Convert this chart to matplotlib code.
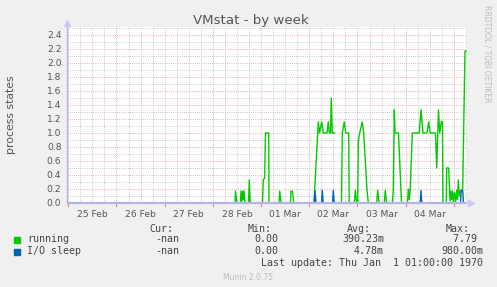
import numpy as np
import matplotlib
matplotlib.use("Agg")
import matplotlib.pyplot as plt
from matplotlib.lines import Line2D

# ---- data (time in hours since 25 Feb 00:00) ----
run_hours = [69.06, 83.0, 83.25, 84.0, 85.74, 85.99, 86.49, 86.84, 87.14, 87.49, 87.98,
             89.73, 90.12, 90.62, 96.70, 97.10, 97.79, 98.19, 99.79, 99.94,
             104.91, 105.26, 105.91, 110.64, 110.89, 111.64, 112.23,
             122.34, 124.48, 125.08, 126.17, 126.97, 128.81, 129.46, 129.96, 130.56,
             130.96, 131.45, 132.55, 132.6,
             136.03, 136.43, 137.43, 138.12, 139.62, 139.87,
             142.41, 142.91, 143.60, 144.10, 144.40, 145.10, 146.39, 147.09, 148.73, 149.38,
             153.56, 154.06, 154.71, 157.35, 157.85, 158.54,
             161.43, 161.83, 162.33, 162.67, 164.42, 165.91,
             168.90, 169.30, 169.79, 170.29, 171.29, 174.77, 175.62, 176.61, 178.60,
             179.45, 180.10, 182.84, 183.44, 184.33, 184.93, 185.73, 186.32, 186.57,
             188.22, 188.42, 189.41, 190.06, 190.56, 190.91, 191.30, 191.70, 192.30,
             192.80, 193.40, 193.79, 194.19, 194.69, 195.29, 196.38, 197.53, 198.03]
run_vals = [0, 0, 0.17, 0, 0, 0.17, 0.03, 0.17, 0.05, 0.17, 0,
            0, 0.33, 0, 0, 0.33, 0.36, 1.0, 1.0, 0,
            0, 0.17, 0, 0, 0.17, 0.17, 0,
            0, 1.16, 1.0, 1.16, 1.0, 1.0, 1.16, 1.0, 1.0,
            1.5, 1.0, 1.0, np.nan,
            0, 1.0, 1.16, 1.0, 1.0, 0,
            0, 0.18, 0, 0, 0.88, 1.0, 1.16, 1.0, 0.19, 0,
            0, 0.18, 0, 0, 0.18, 0,
            0, 0.2, 1.33, 1.0, 1.0, 0,
            0, 0.2, 0.05, 0.2, 1.0, 1.0, 1.33, 1.0, 1.0,
            1.16, 1.0, 1.0, 0.5, 1.33, 1.0, 1.16, 1.16, 0,
            0, 0.5, 0.5, 0.03, 0.17, 0.05, 0.17, 0.02, 0.15,
            0.02, 0.18, 0.05, 0.33, 0.1, 0.17, 0.2, 2.17, 2.17]

io_hours = [69.06, 122.49, 122.84, 123.34, 126.12, 126.47, 126.92, 131.60, 131.95,
            132.40, 175.22, 175.62, 176.02, 195.29, 195.64, 196.38, 196.78, 198.03]
io_vals = [0, 0, 0.18, 0, 0, 0.18, 0, 0, 0.18,
           0, 0, 0.18, 0, 0, 0.18, 0.18, 0, 0]

day_labels = ["25 Feb", "26 Feb", "27 Feb", "28 Feb", "01 Mar", "02 Mar", "03 Mar", "04 Mar"]
y_ticks = [0.0, 0.2, 0.4, 0.6, 0.8, 1.0, 1.2, 1.4, 1.6, 1.8, 2.0, 2.2, 2.4]

series_names = ["running", "I/O sleep"]
series_colors = ["#00CC00", "#0066B3"]
cur_vals = ["-nan", "-nan"]
min_vals = ["0.00", "0.00"]
avg_vals = ["390.23m", "4.78m"]
max_vals = ["7.79 ", "980.00m"]

# ---- figure ----
W, H = 497, 287
fig = plt.figure(figsize=(W / 100, H / 100), dpi=100, facecolor="#F0F0F0")
L, R, T, B = 67, 467, 27, 203
ax = fig.add_axes([L / W, 1 - B / H, (R - L) / W, (B - T) / H], facecolor="white")

x0 = -0.027 * 24
x1 = 8.272 * 24
ax.set_xlim(x0, x1)
ax.set_ylim(0, 2.514)

for s in ax.spines.values():
    s.set_visible(False)

# grid
dot = (0, (0.72, 1.44))
for h in np.arange(0, x1, 6):
    if h % 24 == 0:
        continue
    ax.axvline(h, color="#BDBDBD", lw=0.72, ls=dot, zorder=1)
for v in np.arange(0.1, 2.55, 0.2):
    ax.axhline(v, color="#BDBDBD", lw=0.72, ls=dot, zorder=1)
for h in np.arange(0, x1, 24):
    ax.axvline(h, color="#E49A9A", lw=0.72, ls=dot, zorder=1.5)
for v in y_ticks[1:]:
    ax.axhline(v, color="#E49A9A", lw=0.72, ls=dot, zorder=1.5)

# data
ax.plot(run_hours, run_vals, color=series_colors[0], lw=1.0, zorder=3)
ax.plot(io_hours, io_vals, color=series_colors[1], lw=1.0, zorder=4)

# axes lines and arrows
axis_col = "#B4B4E6"
ax.plot([x0, x1], [0, 0], color=axis_col, lw=1.6, zorder=5, clip_on=False,
        solid_capstyle="butt")
ax.plot([x0, x0], [0, 2.514], color=axis_col, lw=1.0, zorder=5, clip_on=False)
ax.plot([x1 + 2.0], [0], marker=">", color="#C8C8F4", ms=4, clip_on=False, zorder=5)
ax.plot([x0], [2.514 + 0.05], marker="^", color="#C8C8F4", ms=4, clip_on=False, zorder=5)

# tick marks below axis
for h in np.arange(0, x1, 24):
    ax.add_line(Line2D([h, h], [-0.01, -0.045], color="#E08080", lw=0.8, clip_on=False))

ax.set_xticks([24 * i + 12 for i in range(len(day_labels))])
ax.set_xticklabels(day_labels)
ax.set_yticks(y_ticks)
ax.set_yticklabels(["%.1f" % v for v in y_ticks])
ax.tick_params(axis="both", length=0, labelsize=6.6, colors="#555555")
ax.tick_params(axis="x", pad=5)
ax.tick_params(axis="y", pad=4)

# titles
fig.text(251 / W, 1 - 24 / H, "VMstat - by week", ha="center", va="baseline",
         fontsize=9.6, color="#555555")
fig.text(11 / W, 1 - 114.5 / H, "process states", rotation=90, ha="center", va="center",
         fontsize=7.8, color="#555555")
fig.text(487.5 / W, 1 - 53.5 / H, "RRDTOOL / TOBI OETIKER", rotation=270, ha="center",
         va="center", fontsize=5.5, color="#BBBBBB")

# legend
mono = "DejaVu Sans Mono"
fs = 7.2
tc = "#444444"
def ftext(x, y, s, ha="left", **kw):
    fig.text(x / W, 1 - y / H, s, ha=ha, va="center", family=mono, fontsize=fs,
             color=tc, **kw)

hy = 228.5
for xr, s in [(173, "Cur:"), (272, "Min:"), (371, "Avg:"), (470, "Max:")]:
    ftext(xr, hy, s, ha="right")
rows_y = [239.5, 251.5]
for i in range(2):
    y = rows_y[i]
    fig.patches.append(plt.Rectangle((14 / W, 1 - (y + 3) / H), 6 / W, 6 / H,
                                     transform=fig.transFigure, color=series_colors[i]))
    ftext(27, y, series_names[i])
    ftext(179, y, cur_vals[i], ha="right")
    ftext(278, y, min_vals[i], ha="right")
    ftext(384, y, avg_vals[i], ha="right")
    ftext(483, y, max_vals[i], ha="right")
ftext(483, 263.5, "Last update: Thu Jan  1 01:00:00 1970", ha="right")
fig.text(248 / W, 1 - 277 / H, "Munin 2.0.75", ha="center", va="center",
         fontsize=5.5, color="#BBBBBB")

fig.savefig("out.png", dpi=100, facecolor=fig.get_facecolor())
